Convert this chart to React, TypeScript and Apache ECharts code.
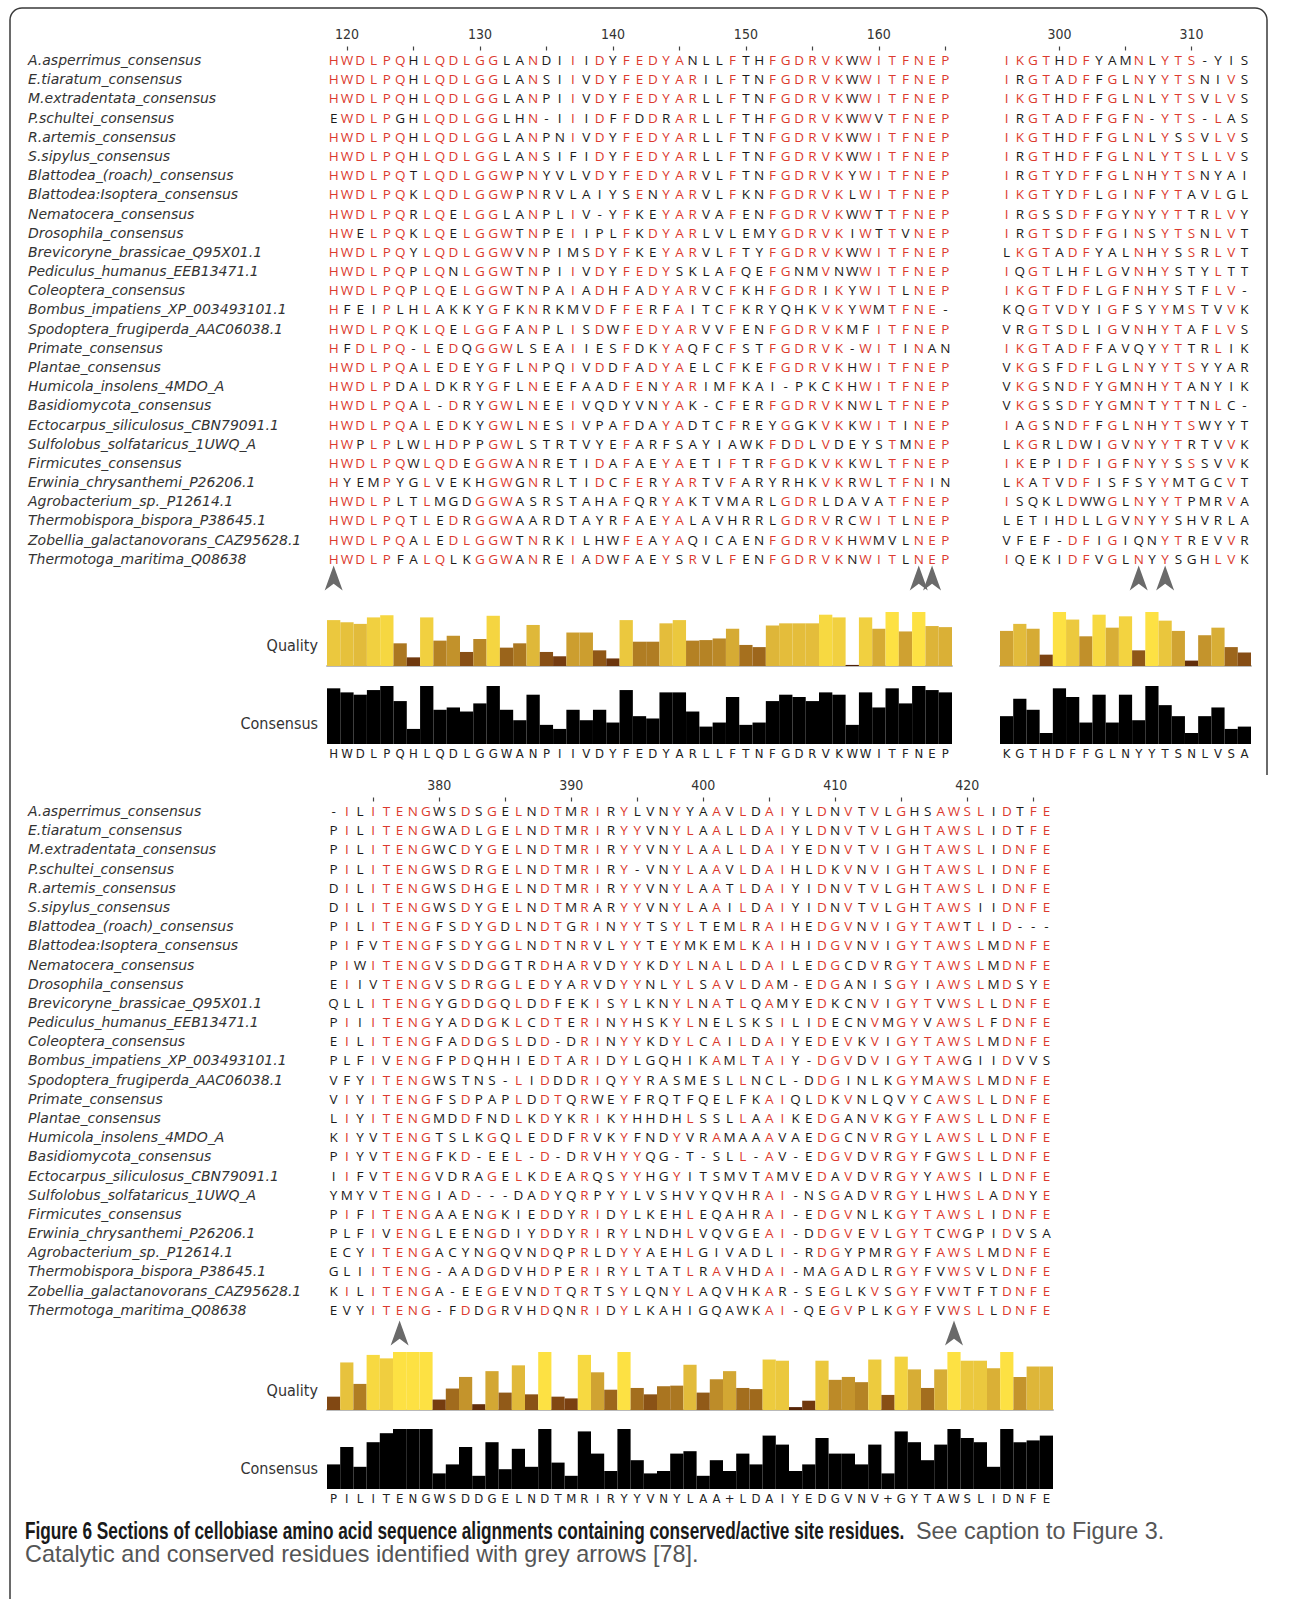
import React, { useEffect, useRef } from "react";
import * as echarts from "echarts";

// ---------------- data ----------------
const SPECIES = [
  "A.asperrimus_consensus",
  "E.tiaratum_consensus",
  "M.extradentata_consensus",
  "P.schultei_consensus",
  "R.artemis_consensus",
  "S.sipylus_consensus",
  "Blattodea_(roach)_consensus",
  "Blattodea:Isoptera_consensus",
  "Nematocera_consensus",
  "Drosophila_consensus",
  "Brevicoryne_brassicae_Q95X01.1",
  "Pediculus_humanus_EEB13471.1",
  "Coleoptera_consensus",
  "Bombus_impatiens_XP_003493101.1",
  "Spodoptera_frugiperda_AAC06038.1",
  "Primate_consensus",
  "Plantae_consensus",
  "Humicola_insolens_4MDO_A",
  "Basidiomycota_consensus",
  "Ectocarpus_siliculosus_CBN79091.1",
  "Sulfolobus_solfataricus_1UWQ_A",
  "Firmicutes_consensus",
  "Erwinia_chrysanthemi_P26206.1",
  "Agrobacterium_sp._P12614.1",
  "Thermobispora_bispora_P38645.1",
  "Zobellia_galactanovorans_CAZ95628.1",
  "Thermotoga_maritima_Q08638",
];

const BLOCK1_START = 119;
const BLOCK1_SEQS = [
  "HWDLPQHLQDLGGLANDIIIDYFEDYANLLFTHFGDRVKWWITFNEP",
  "HWDLPQHLQDLGGLANSIIVDYFEDYARILFTNFGDRVKWWITFNEP",
  "HWDLPQHLQDLGGLANPIIVDYFEDYARLLFTNFGDRVKWWITFNEP",
  "EWDLPGHLQDLGGLHN-IIIDFFDDRARLLFTHFGDRVKWWVTFNEP",
  "HWDLPQHLQDLGGLANPNIVDYFEDYARLLFTNFGDRVKWWITFNEP",
  "HWDLPQHLQDLGGLANSIFIDYFEDYARLLFTNFGDRVKWWITFNEP",
  "HWDLPQTLQDLGGWPNYVLVDYFEDYARVLFTNFGDRVKYWITFNEP",
  "HWDLPQKLQDLGGWPNRVLAIYSENYARVLFKNFGDRVKLWITFNEP",
  "HWDLPQRLQELGGLANPLIV-YFKEYARVAFENFGDRVKWWTTFNEP",
  "HWELPQKLQELGGWTNPEIIPLFKDYARLVLEMYGDRVKIWTTVNEP",
  "HWDLPQYLQDLGGWVNPIMSDYFKEYARVLFTYFGDRVKWWITFNEP",
  "HWDLPQPLQNLGGWTNPIIVDYFEDYSKLAFQEFGNMVNWWITFNEP",
  "HWDLPQPLQELGGWTNPAIADHFADYARVCFKHFGDRIKYWITLNEP",
  "HFEIPLHLAKKYGFKNRKMVDFFERFAITCFKRYQHKVKYWMTFNE-",
  "HWDLPQKLQELGGFANPLISDWFEDYARVVFENFGDRVKMFITFNEP",
  "HFDLPQ-LEDQGGWLSEAIIESFDKYAQFCFSTFGDRVK-WITINAN",
  "HWDLPQALEDEYGFLNPQIVDDFADYAELCFKEFGDRVKHWITFNEP",
  "HWDLPDALDKRYGFLNEEFAADFENYARIMFKAI-PKCKHWITFNEP",
  "HWDLPQAL-DRYGWLNEEIVQDYVNYAK-CFERFGDRVKNWLTFNEP",
  "HWDLPQALEDKYGWLNESIVPAFDAYADTCFREYGGKVKKWITINEP",
  "HWPLPLWLHDPPGWLSTRTVYEFARFSAYIAWKFDDLVDEYSTMNEP",
  "HWDLPQWLQDEGGWANRETIDAFAEYAETIFTRFGDKVKKWLTFNEP",
  "HYEMPYGLVEKHGWGNRLTIDCFERYARTVFARYRHKVKRWLTFNIN",
  "HWDLPLTLMGDGGWASRSTAHAFQRYAKTVMARLGDRLDAVATFNEP",
  "HWDLPQTLEDRGGWAARDTAYRFAEYALAVHRRLGDRVRCWITLNEP",
  "HWDLPQALEDLGGWTNRKILHWFEAYAQICAENFGDRVKHWMVLNEP",
  "HWDLPFALQLKGGWANREIADWFAEYSRVLFENFGDRVKNWITLNEP",
];
const BLOCK1_CONSENSUS_SEQ = "HWDLPQHLQDLGGWANPIIVDYFEDYARLLFTNFGDRVKWWITFNEP";
const BLOCK1_CONSENSUS = [96, 89, 85, 93, 100, 74, 26, 100, 59, 63, 56, 70, 100, 59, 41, 85, 33, 26, 59, 41, 59, 37, 93, 48, 44, 89, 89, 56, 30, 37, 81, 33, 37, 74, 85, 81, 74, 89, 85, 33, 89, 63, 96, 70, 100, 93, 89];
const BLOCK1_QUALITY = [85, 81, 78, 90, 94, 42, 16, 90, 47, 56, 26, 50, 93, 34, 42, 76, 26, 18, 62, 62, 29, 14, 85, 45, 45, 79, 85, 47, 48, 51, 69, 39, 35, 75, 79, 79, 79, 95, 90, 2, 90, 69, 100, 64, 100, 74, 72];
const BLOCK1_ARROWS = [119, 163, 164];

const BLOCK2_START = 296;
const BLOCK2_SEQS = [
  "IKGTHDFYAMNLYTS-YIS",
  "IRGTADFFGLNYYTSNIVS",
  "IKGTHDFFGLNLYTSVLVS",
  "IRGTADFFGFN-YTS-LAS",
  "IKGTHDFFGLNLYSSVLVS",
  "IRGTHDFFGLNLYTSLLVS",
  "IRGTYDFFGLNHYTSNYAI",
  "IKGTYDFLGINFYTAVLGL",
  "IRGSSDFFGYNYYTTRLVY",
  "IRGTSDFFGINSYTSNLVT",
  "LKGTADFYALNHYSSRLVT",
  "IQGTLHFLGVNHYSTYLTT",
  "IKGTFDFLGFNHYSTFLV-",
  "KQGTVDYIGFSYYMSTVVK",
  "VRGTSDLIGVNHYTAFLVS",
  "IKGTADFFAVQYYTTRLIK",
  "VKGSFDFLGLNYYTSYYAR",
  "VKGSNDFYGMNHYTANYIK",
  "VKGSSDFYGMNTYTTNLC-",
  "IAGSNDFFGLNHYTSWYYT",
  "LKGRLDWIGVNYYTRTVVK",
  "IKEPIDFIGFNYYSSSVVK",
  "LKATVDFISFSYYMTGCVT",
  "ISQKLDWWGLNYYTPMRVA",
  "LETIHDLLGVNYYSHVRLA",
  "VFEF-DFIGIQNYTREVVR",
  "IQEKIDFVGLNYYSGHLVK",
];
const BLOCK2_CONSENSUS_SEQ = "KGTHDFFGLNYYTSNLVSA";
const BLOCK2_CONSENSUS = [48, 78, 59, 19, 96, 81, 37, 85, 37, 85, 41, 100, 67, 48, 19, 48, 63, 26, 30];
const BLOCK2_QUALITY = [65, 78, 69, 21, 100, 86, 55, 95, 71, 92, 29, 100, 84, 65, 10, 57, 71, 35, 25];
const BLOCK2_ARROWS = [306, 308];

const BLOCK3_START = 372;
const BLOCK3_SEQS = [
  "-ILITENGWSDSGELNDTMRIRYLVNYYAAVLDAIYLDNVTVLGHSAWSLIDTFE",
  "PILITENGWADLGELNDTMRIRYYVNYLAALLDAIYLDNVTVLGHTAWSLIDTFE",
  "PILITENGWCDYGELNDTMRIRYYVNYLAALLDAIYEDNVTVIGHTAWSLIDNFE",
  "PILITENGWSDRGELNDTMRIRY-VNYLAAVLDAIHLDKVNVIGHTAWSLIDNFE",
  "DILITENGWSDHGELNDTMRIRYYVNYLAATLDAIYIDNVTVLGHTAWSLIDNFE",
  "DILITENGWSDYGELNDTMRARYYVNYLAAILDAIYIDNVTVLGHTAWSIIDNFE",
  "PILITENGFSDYGDLNDTGRINYYTSYLTEMLRAIHEDGVNVIGYTAWTLID---",
  "PIFVTENGFSDYGGLNDTNRVLYYTEYMKEMLKAIHIDGVNVIGYTAWSLMDNFE",
  "PIWITENGVSDDGGTRDHARVDYYKDYLNALLDAILEDGCDVRGYTAWSLMDNFE",
  "EIIVTENGVSDRGGLEDYARVDYYNLYLSAVLDAM-EDGANISGYIAWSLMDSYE",
  "QLLITENGYGDDGQLDDFEKISYLKNYLNATLQAMYEDKCNVIGYTVWSLLDNFE",
  "PIIITENGYADDGKLCDTERINYHSKYLNELSKSILIDECNVMGYVAWSLFDNFE",
  "EILITENGFADDGSLDD-DRINYYKDYLCAILDAIYEDEVKVIGYTAWSLMDNFE",
  "PLFIVENGFPDQHHIEDTARIDYLGQHIKAMLTAIY-DGVDVIGYTAWGIIDVVS",
  "VFYITENGWSTNS-LIDDDRIQYYRASMESLLNCL-DDGINLKGYMAWSLMDNFE",
  "VIYITENGFSDPAPLDDTQRWEYFRQTFQELFKAIQLDKVNLQVYCAWSLLDNFE",
  "LIYITENGMDDFNDLKDYKRIKYHHDHLSSLLAAIKEDGANVKGYFAWSLLDNFE",
  "KIYVTENGTSLKGQLEDDFRVKYFNDYVRAMAAAVAEDGCNVRGYLAWSLLDNFE",
  "PIYVTENGFKD-EEL-D-DRVHYYQG-T-SLL-AV-EDGVDVRGYFGWSLLDNFE",
  "IIFVTENGVDRAGELKDEARQSYYHGYITSMVTAMVEDAVDVRGYYAWSILDNFE",
  "YMYVTENGIAD---DADYQRPYYLVSHVYQVHRAI-NSGADVRGYLHWSLADNYE",
  "PIFITENGAAENGKIEDDYRIDYLKEHLEQAHRAI-EDGVNLKGYTAWSLIDNFE",
  "PLFIVENGLEENGDIYDDYRIRYLNDHLVQVGEAI-DDGVEVLGYTCWGPIDVSA",
  "ECYITENGACYNGQVNDQPRLDYYAEHLGIVADLI-RDGYPMRGYFAWSLMDNFE",
  "GLIITENG-AADGDVHDPERIRYLTATLRAVHDAI-MAGADLRGYFVWSVLDNFE",
  "KILITENGA-EEGEVNDTQRTSYLQNYLAQVHKAR-SEGLKVSGYFVWTFTDNFE",
  "EVYITENG-FDDGRVHDQNRIDYLKAHIGQAWKAI-QEGVPLKGYFVWSLLDNFE",
];
const BLOCK3_CONSENSUS_SEQ = "PILITENGWSDDGELNDTMRIRYYVNYLAA+LDAIYEDGVNV+GYTAWSLIDNFE";
const BLOCK3_CONSENSUS = [41, 70, 37, 78, 93, 100, 100, 100, 26, 41, 70, 22, 78, 33, 67, 37, 100, 44, 22, 96, 59, 30, 100, 48, 26, 30, 59, 63, 22, 48, 30, 59, 41, 89, 74, 30, 41, 85, 59, 59, 41, 74, 26, 96, 78, 48, 74, 100, 85, 78, 37, 100, 78, 81, 89];
const BLOCK3_QUALITY = [23, 82, 45, 95, 89, 100, 100, 100, 18, 37, 57, 10, 67, 30, 77, 27, 100, 23, 20, 95, 65, 35, 100, 38, 27, 41, 42, 78, 30, 53, 67, 38, 36, 87, 85, 5, 16, 85, 52, 57, 48, 87, 26, 92, 70, 38, 70, 100, 85, 85, 72, 100, 57, 75, 75];
const BLOCK3_ARROWS = [377, 419];

const CAPTION_BOLD =
  "Figure 6 Sections of cellobiase amino acid sequence alignments containing conserved/active site residues.";
const CAPTION_REST = "See caption to Figure 3.";
const CAPTION_LINE2 = "Catalytic and conserved residues identified with grey arrows [78].";

// ---------------- styles ----------------
const RED = "#dc3a2e";
const BLACK = "#1a1a1a";
const SEQ_FONT = '"Open Sans", "DejaVu Sans", sans-serif';
const NARROW = '"DejaVu Sans Condensed", "DejaVu Sans", sans-serif';
const NAME_FONT = '"DejaVu Sans", sans-serif';
const CAP_FONT = '"Liberation Sans", Arial, sans-serif';
const ROW_H = 19.18;

function conservedMask(seqs: string[]): boolean[][] {
  const n = seqs.length;
  const len = seqs[0].length;
  const mask = seqs.map(() => [] as boolean[]);
  for (let c = 0; c < len; c++) {
    const counts: Record<string, number> = {};
    seqs.forEach((s) => {
      const ch = s[c];
      if (ch && ch !== "-") counts[ch] = (counts[ch] || 0) + 1;
    });
    let best = "";
    let bestN = 0;
    Object.keys(counts).forEach((k) => {
      if (counts[k] > bestN) {
        best = k;
        bestN = counts[k];
      }
    });
    const conserved = bestN / n >= 0.43;
    seqs.forEach((s, r) => {
      mask[r][c] = conserved && s[c] === best;
    });
  }
  return mask;
}

function buildOption() {
  const blocks = [
    {
      seqs: BLOCK1_SEQS, start: BLOCK1_START, cons: BLOCK1_CONSENSUS_SEQ, consVals: BLOCK1_CONSENSUS,
      qual: BLOCK1_QUALITY, arrows: BLOCK1_ARROWS, showNames: true,
      left: 327, width: 625, seqTop: 50.5, qualTop: 612, qualH: 54, consTop: 686, consH: 58, arrowTop: 565,
    },
    {
      seqs: BLOCK2_SEQS, start: BLOCK2_START, cons: BLOCK2_CONSENSUS_SEQ, consVals: BLOCK2_CONSENSUS,
      qual: BLOCK2_QUALITY, arrows: BLOCK2_ARROWS, showNames: false,
      left: 1000, width: 251, seqTop: 50.5, qualTop: 612, qualH: 54, consTop: 686, consH: 58, arrowTop: 565,
    },
    {
      seqs: BLOCK3_SEQS, start: BLOCK3_START, cons: BLOCK3_CONSENSUS_SEQ, consVals: BLOCK3_CONSENSUS,
      qual: BLOCK3_QUALITY, arrows: BLOCK3_ARROWS, showNames: true,
      left: 327, width: 726, seqTop: 801.5, qualTop: 1352, qualH: 58, consTop: 1429, consH: 60, arrowTop: 1320,
    },
  ];

  const grid: any[] = [];
  const xAxis: any[] = [];
  const yAxis: any[] = [];
  const series: any[] = [];
  const qualitySeries: number[] = [];

  blocks.forEach((b) => {
    const len = b.seqs[0].length;
    const positions = Array.from({ length: len }, (_, i) => String(b.start + i));
    const g0 = grid.length;

    // sequence grid
    grid.push({ left: b.left, top: b.seqTop, width: b.width, height: ROW_H * b.seqs.length });
    xAxis.push({
      type: "category", gridIndex: g0, position: "top", data: positions,
      axisLine: { show: false },
      axisTick: {
        show: true, alignWithLabel: true, length: 4,
        interval: (_i: number, v: string) => Number(v) % 5 === 0,
        lineStyle: { color: "#444", width: 1.2 },
      },
      axisLabel: {
        show: true, margin: 10, fontFamily: NARROW, fontSize: 14, color: "#333",
        interval: (_i: number, v: string) => Number(v) % 10 === 0,
      },
      splitLine: { show: false },
    });
    yAxis.push({
      type: "category", gridIndex: g0, data: SPECIES, inverse: true,
      axisLine: { show: false }, axisTick: { show: false }, splitLine: { show: false },
      axisLabel: {
        show: b.showNames, interval: 0, align: "left", margin: b.left - 28,
        fontFamily: NAME_FONT, fontStyle: "italic", fontSize: 14, color: "#333",
      },
    });
    const mask = conservedMask(b.seqs);
    const data: number[][] = [];
    const chars: string[] = [];
    const reds: boolean[] = [];
    b.seqs.forEach((s, r) => {
      for (let c = 0; c < s.length; c++) {
        data.push([c, r]);
        chars.push(s[c]);
        reds.push(mask[r][c]);
      }
    });
    series.push({
      type: "custom", xAxisIndex: g0, yAxisIndex: g0, data, silent: true, clip: false,
      renderItem: (params: any, api: any) => {
        const i = params.dataIndex;
        const p = api.coord([api.value(0), api.value(1)]);
        return {
          type: "text", x: p[0], y: p[1],
          style: {
            text: chars[i], fill: reds[i] ? RED : BLACK, fontSize: 13.5, fontWeight: 500, fontFamily: SEQ_FONT,
            align: "center", verticalAlign: "middle",
          },
        };
      },
    });

    // quality grid
    const g1 = grid.length;
    grid.push({ left: b.left, top: b.qualTop, width: b.width, height: b.qualH });
    xAxis.push({
      type: "category", gridIndex: g1, data: positions,
      axisLine: { show: true, lineStyle: { color: "#b9b9b9", width: 2 } },
      axisTick: { show: false }, axisLabel: { show: false },
    });
    yAxis.push({ type: "value", gridIndex: g1, min: 0, max: 100, show: false });
    qualitySeries.push(series.length);
    series.push({
      type: "bar", xAxisIndex: g1, yAxisIndex: g1, data: b.qual, barWidth: "100%", barCategoryGap: "0%", silent: true,
    });

    // consensus grid
    const g2 = grid.length;
    grid.push({ left: b.left, top: b.consTop, width: b.width, height: b.consH });
    xAxis.push({
      type: "category", gridIndex: g2, data: positions,
      axisLine: { show: false }, axisTick: { show: false },
      axisLabel: {
        show: true, interval: 0, margin: 3, fontFamily: NARROW, fontSize: 13, color: "#222",
        formatter: (_v: string, i: number) => b.cons[i] || "",
      },
    });
    yAxis.push({ type: "value", gridIndex: g2, min: 0, max: 100, show: false });
    series.push({
      type: "bar", xAxisIndex: g2, yAxisIndex: g2, data: b.consVals, barWidth: "100%", barCategoryGap: "0%",
      itemStyle: { color: "#000" }, silent: true,
    });

    // arrows grid
    const g3 = grid.length;
    grid.push({ left: b.left, top: b.arrowTop, width: b.width, height: 26 });
    xAxis.push({ type: "category", gridIndex: g3, data: positions, show: false });
    yAxis.push({ type: "value", gridIndex: g3, min: 0, max: 1, show: false });
    series.push({
      type: "scatter", xAxisIndex: g3, yAxisIndex: g3, silent: true,
      data: b.arrows.map((p) => [p - b.start, 0.5]),
      symbol: "path://M10,0 L20,26 L10,19 L0,26 Z", symbolSize: [18, 25],
      itemStyle: { color: "#6a6a6a", opacity: 1 },
    });
  });

  const labelStyle = { fontFamily: NARROW, fontSize: 16, fill: "#333", align: "right", verticalAlign: "middle" };

  return {
    animation: false,
    backgroundColor: "#ffffff",
    grid, xAxis, yAxis, series,
    visualMap: {
      type: "continuous", show: false, seriesIndex: qualitySeries, dimension: 1, min: 0, max: 100,
      inRange: { color: ["#4a1c04", "#7a4011", "#a8731f", "#c99a2e", "#e5bf3c", "#fde143"] },
    },
    graphic: [
      {
        type: "rect", silent: true,
        shape: { x: 10, y: 8, width: 1257, height: 1700, r: [12, 12, 0, 0] },
        style: { fill: "none", stroke: "#3a3a3a", lineWidth: 1.5 },
      },
      // the frame's right edge stops below the top panel
      { type: "rect", silent: true, shape: { x: 1262, y: 775, width: 12, height: 830 }, style: { fill: "#ffffff" } },
      { type: "text", x: 318, y: 645, style: { ...labelStyle, text: "Quality" } },
      { type: "text", x: 318, y: 723, style: { ...labelStyle, text: "Consensus" } },
      { type: "text", x: 318, y: 1390, style: { ...labelStyle, text: "Quality" } },
      { type: "text", x: 318, y: 1468, style: { ...labelStyle, text: "Consensus" } },
      {
        type: "text", x: 25, y: 1531, scaleX: 0.75,
        style: { text: CAPTION_BOLD, fontFamily: CAP_FONT, fontWeight: "bold", fontSize: 23, fill: "#1a1a1a", align: "left", verticalAlign: "middle" },
      },
      {
        type: "text", x: 916, y: 1531,
        style: { text: CAPTION_REST, fontFamily: CAP_FONT, fontSize: 23.4, fill: "#555555", align: "left", verticalAlign: "middle" },
      },
      {
        type: "text", x: 25, y: 1554,
        style: { text: CAPTION_LINE2, fontFamily: CAP_FONT, fontSize: 23.4, fill: "#555555", align: "left", verticalAlign: "middle" },
      },
    ],
  };
}

export default function App() {
  const ref = useRef<HTMLDivElement>(null);
  useEffect(() => {
    document.body.style.margin = "0";
    if (!ref.current) return;
    const chart = echarts.init(ref.current, null, { renderer: "svg" });
    chart.setOption(buildOption() as any);
    return () => chart.dispose();
  }, []);
  return <div ref={ref} style={{ width: 1292, height: 1599 }} />;
}
